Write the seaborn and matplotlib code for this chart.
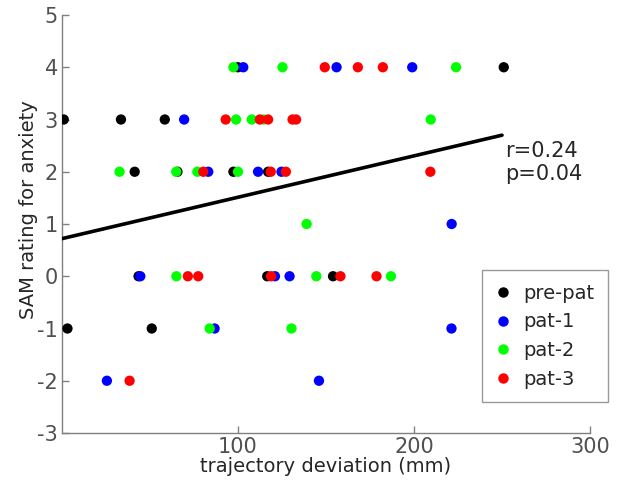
import numpy as np
import pandas as pd
import seaborn as sns
import matplotlib
matplotlib.use("Agg")
import matplotlib.pyplot as plt

# values (x: trajectory deviation in mm, y: SAM rating)
pre_pat_x = [100, 251, 1, 33.5, 58.4, 41.3, 65.6, 97.4, 117.1, 43.5, 116.6, 154, 3.1, 51]
pre_pat_y = [4, 4, 3, 3, 3, 2, 2, 2, 2, 0, 0, 0, -1, -1]

pat1_x = [103, 156, 199, 69.4, 83.1, 111.4, 124.7, 221.4, 44.5, 121, 129.3, 86.7, 221.3, 25.5, 146]
pat1_y = [4, 4, 4, 3, 2, 2, 2, 1, 0, 0, 0, -1, -1, -2, -2]

pat2_x = [97.4, 125.3, 223.9, 98.9, 107.8, 114.6, 209.5, 32.7, 64.9, 76.9, 100, 139, 65, 144.5, 186.9, 83.9, 130.4]
pat2_y = [4, 4, 4, 3, 3, 3, 3, 2, 2, 2, 2, 1, 0, 0, 0, -1, -1]

pat3_x = [149.3, 168.1, 182.3, 93, 112.4, 117.1, 131, 133, 80.3, 118.6, 127.2, 209.3, 71.5, 77.4, 118.8, 158.2, 178.7, 38.4]
pat3_y = [4, 4, 4, 3, 3, 3, 3, 3, 2, 2, 2, 2, 0, 0, 0, 0, 0, -2]

groups = ["pre-pat", "pat-1", "pat-2", "pat-3"]
group_colors = ["#000000", "#0000ff", "#00ff00", "#ff0000"]

# regression line end points
fit_x = [0, 250]
fit_y = [0.72, 2.70]
stats_text = "r=0.24\np=0.04"

xs = [pre_pat_x, pat1_x, pat2_x, pat3_x]
ys = [pre_pat_y, pat1_y, pat2_y, pat3_y]
df = pd.concat([pd.DataFrame({"x": a, "y": b, "group": g}) for a, b, g in zip(xs, ys, groups)],
               ignore_index=True)

sns.set_style("white")
plt.rcParams['font.family'] = ['DejaVu Sans']
plt.rcParams['axes.unicode_minus'] = False

fig = plt.figure(figsize=(6.26, 4.87), dpi=100)
ax = fig.add_axes([62 / 626, 1 - 433 / 487, (590 - 62) / 626, (433 - 15) / 487])

sns.scatterplot(data=df, x="x", y="y", hue="group", hue_order=groups,
                palette=dict(zip(groups, group_colors)), s=55, linewidth=0,
                ax=ax, legend=False, zorder=3)
ax.plot(fit_x, fit_y, color="black", linewidth=2.6, zorder=4)
ax.text(252, 2.17, stats_text, fontsize=15, va="center", ha="left", linespacing=1.2)

ax.set_xlim(0, 300)
ax.set_ylim(-3, 5)
ax.set_xticks([100, 200, 300])
ax.set_yticks(range(-3, 6))
ax.set_xlabel("trajectory deviation (mm)", fontsize=14, labelpad=0)
ax.set_ylabel("SAM rating for anxiety", fontsize=14)
ax.yaxis.set_label_coords(-0.045, 0.535)
ax.tick_params(left=True, bottom=True, direction="in", length=5, width=1, colors="#808080",
               labelcolor="#505050", labelsize=15, pad=3)
for side in ["top", "right"]:
    ax.spines[side].set_visible(False)
for side in ["left", "bottom"]:
    ax.spines[side].set_color("#808080")
    ax.spines[side].set_linewidth(1)

handles = [plt.Line2D([], [], marker="o", linestyle="", color=c, markersize=6.5) for c in group_colors]
leg = fig.legend(handles, groups, loc="upper left", bbox_to_anchor=(482 / 626, 1 - 270 / 487),
                 frameon=True, fancybox=False, fontsize=14, handlelength=0.8, handletextpad=0.6,
                 labelspacing=0.5, borderpad=0.7, borderaxespad=0)
leg.get_frame().set_edgecolor("#808080")
leg.get_frame().set_linewidth(1)

fig.savefig("out.png", dpi=100)
